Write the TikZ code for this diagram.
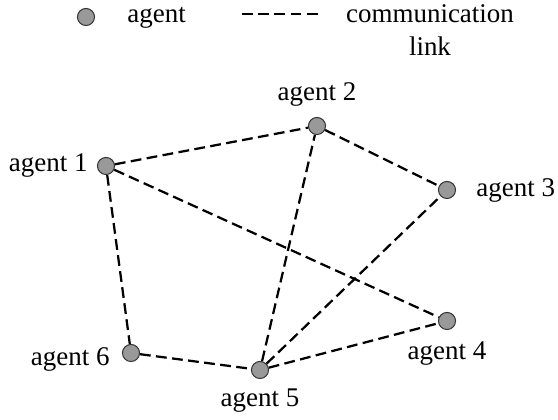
\documentclass[tikz,border=0pt]{standalone}
\usepackage{fontspec}
\setmainfont{Liberation Serif}

\begin{document}
\begin{tikzpicture}[
    x=0.445pt, y=-0.445pt,
    agent/.style={circle, draw=black!80, fill=black!40, line width=0.45pt, minimum size=7.6pt, inner sep=0pt},
    comlink/.style={line width=1pt, dash pattern=on 4.8pt off 2.4pt},
    mylabel/.style={font=\fontsize{12}{14.5}\selectfont, inner sep=0pt}
    ]
\useasboundingbox (0,0) rectangle (558,420);

% legend
\node[agent] (lc) at (86,17) {};
\node[mylabel, anchor=base west] (lagent) at (127,23) {agent};
\coordinate (ls) at (242,14);
\coordinate (le) at (318,14);
\draw[comlink] (ls)--(le);
\node[mylabel, anchor=base] (lcomm) at (430,23) {communication};
\node[mylabel, anchor=base] (llink) at (430,56) {link};

% agents
\node[agent] (a1) at (106,166) {};
\node[agent] (a2) at (317,126) {};
\node[agent] (a3) at (447,190) {};
\node[agent] (a4) at (447,321) {};
\node[agent] (a5) at (260,370) {};
\node[agent] (a6) at (131,353) {};

\node[mylabel, anchor=base east] (l1) at (88,172) {agent 1};
\node[mylabel, anchor=base] (l2) at (317,101) {agent 2};
\node[mylabel, anchor=base west] (l3) at (476,197) {agent 3};
\node[mylabel, anchor=base] (l4) at (447,360) {agent 4};
\node[mylabel, anchor=base] (l5) at (260,407) {agent 5};
\node[mylabel, anchor=base east] (l6) at (110,366) {agent 6};

\foreach \i/\j in {a1/a2, a2/a3, a1/a4, a1/a6,
            a6/a5, a5/a2, a5/a3, a5/a4}
    \draw[comlink] (\i)--(\j);

\end{tikzpicture}
\end{document}
